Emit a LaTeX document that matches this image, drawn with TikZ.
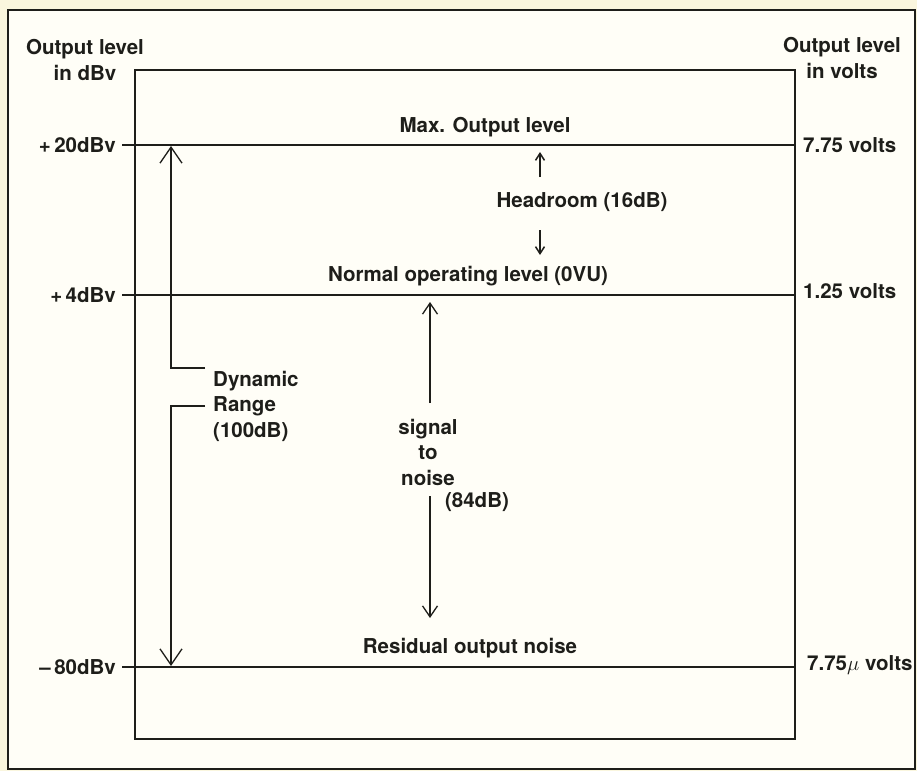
\documentclass[tikz,border=0pt]{standalone}
\usepackage{fontspec}
\setmainfont{TeX Gyre Heros}
\usepackage{xcolor}
\usepackage{tikz}
\usetikzlibrary{arrows.meta, positioning, calc}
\definecolor{paper}{HTML}{FAF6DE}
\definecolor{sheet}{HTML}{FFFEF7}
\definecolor{ink}{HTML}{1E1E1A}
\tikzset{
  frm/.style ={draw=ink, line width=2.4pt},
  lvl/.style ={draw=ink, line width=1.1pt},
  lbl/.style ={align=center, inner sep=0pt, text=ink, font=\fontsize{20.5}{25.5}\selectfont\bfseries},
  fl/.style  ={draw=ink, line width=1.1pt, -{Straight Barb[length=16pt, width=22pt, line width=1.3pt]}},
  fl1/.style ={draw=ink, line width=1.1pt, -{Straight Barb[length=11pt, width=15pt, line width=1.3pt]}},
  fl2/.style ={draw=ink, line width=1.6pt, -{Straight Barb[length=7pt, width=9pt, line width=1.5pt]}},
}
\begin{document}
\begin{tikzpicture}[x=1pt, y=-1pt, >=Latex]
  \useasboundingbox[fill=paper] (0,0) rectangle (917,771);
  \draw[frm, fill=sheet] (8,10) rectangle (915,769);
  \draw[lvl] (135,70) rectangle (795,739);
  % axis headings
  \node[lbl] (hdbv) at (85,60) {Output level\\in dBv};
  \node[lbl] (hvolt) at (842,58) {Output level\\in volts};
  % level lines
  \coordinate (a20) at (122,145);
  \coordinate (b20) at (795,145);
  \coordinate (a4) at (122,295);
  \coordinate (b4) at (795,295);
  \coordinate (a80) at (122,667);
  \coordinate (b80) at (795,667);
  \draw[lvl] (a20) -- (b20);
  \draw[lvl] (a4) -- (b4);
  \draw[lvl] (a80) -- (b80);
  \node[lbl, left=6pt of a20] (l20) {+\,20dBv};
  \node[lbl, left=6pt of a4] (l4) {+\,4dBv};
  \node[lbl, left=6pt of a80] (l80) {--\,80dBv};
  \node[lbl, anchor=west] (v20) at ($(b20)+(8,0)$) {7.75 volts};
  \node[lbl, anchor=west] (v4) at ($(b4)+(8,-4)$) {1.25 volts};
  \node[lbl, anchor=west] (v80) at ($(b80)+(12,-2)$) {7.75$\mu$ volts};
  \node[lbl] (maxo) at (485,127) {Max. Output level};
  \node[lbl] (norm) at (468,276) {Normal operating level (0VU)};
  \node[lbl] (resid) at (470,648) {Residual output noise};
  % headroom
  \node[lbl] (head) at (582,202) {Headroom (16dB)};
  \coordinate (hu0) at (540,177);
  \coordinate (hu1) at (540,152);
  \coordinate (hd0) at (540,230);
  \coordinate (hd1) at (540,255);
  \draw[fl2] (hu0) -- (hu1);
  \draw[fl2] (hd0) -- (hd1);
  % signal to noise
  \node[lbl] (sn) at (428,452) {signal\\to\\noise};
  \node[lbl] (sndb) at (477,502) {(84dB)};
  \coordinate (su0) at (430,403);
  \coordinate (su1) at (430,302);
  \coordinate (sd0) at (430,496);
  \coordinate (sd1) at (430,618);
  \draw[fl1] (su0) -- (su1);
  \draw[fl1] (sd0) -- (sd1);
  % dynamic range
  \node[lbl, align=left, anchor=west] (dyn) at (213,406) {Dynamic\\Range\\(100dB)};
  \coordinate (du0) at (205,368);
  \coordinate (dd0) at (205,406);
  \draw[fl] (du0) -- (171,368) -- (171,146);
  \draw[fl] (dd0) -- (171,406) -- (171,666);
\end{tikzpicture}
\end{document}
